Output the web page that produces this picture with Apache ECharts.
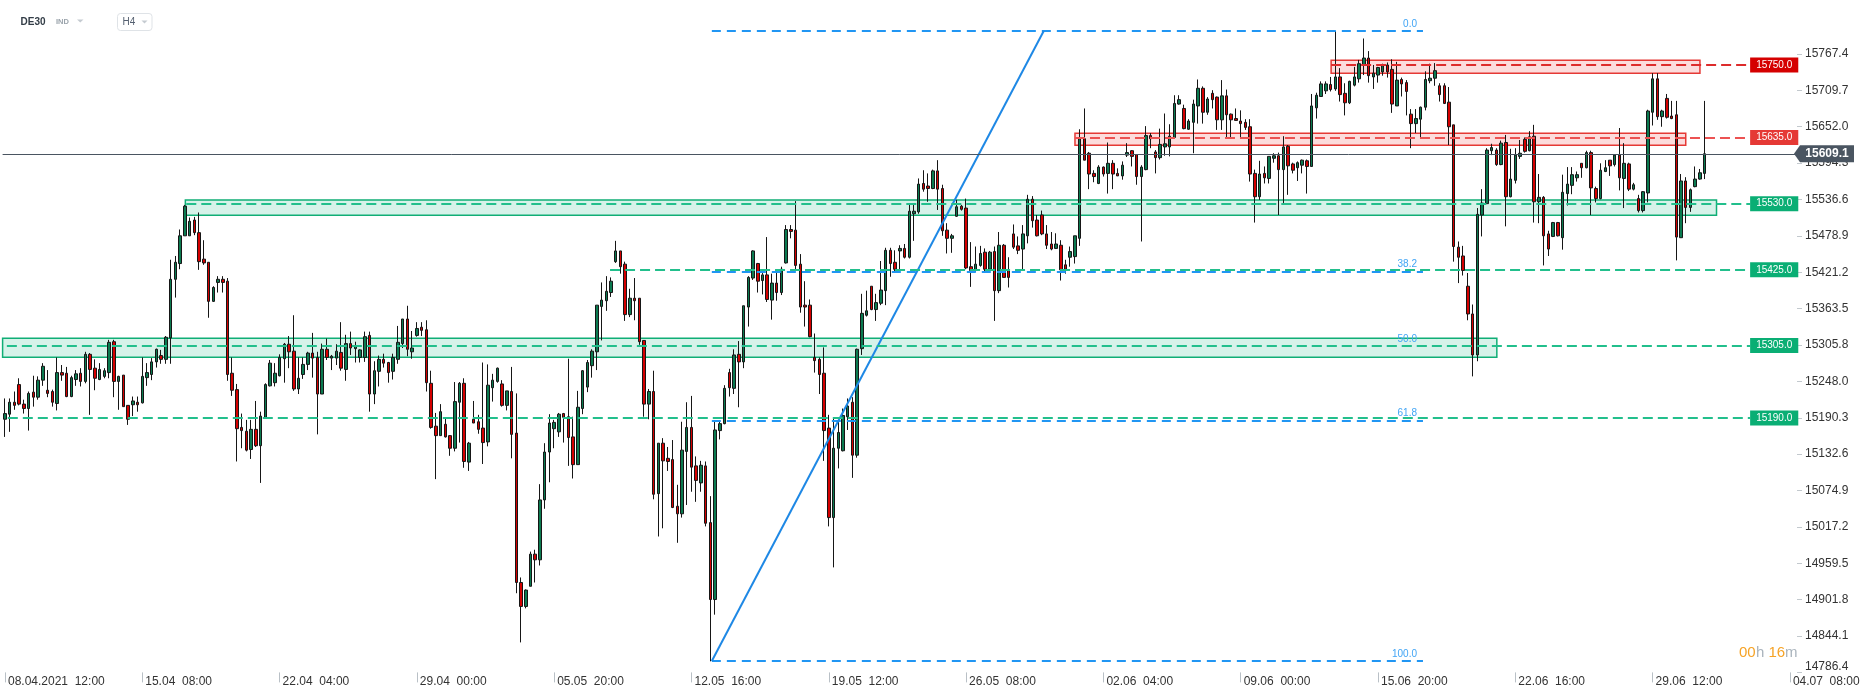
<!DOCTYPE html>
<html><head><meta charset="utf-8">
<script src="https://cdn.jsdelivr.net/npm/echarts@6/dist/echarts.min.js"></script>
<style>html,body{margin:0;padding:0;background:#fff}#c{width:1866px;height:698px}</style>
</head><body><div id="c"></div>
<script>
// H4 candles, each row: [open, close, low, high]
const candles = [
[15188,15197,15160,15221],[15196,15215,15168,15221],[15215,15210,15203,15232],[15243,15212,15210,15253],[15212,15205,15197,15219],
[15205,15229,15170,15232],[15231,15223,15208,15257],[15223,15250,15219,15256],[15250,15272,15241,15277],[15234,15229,15223,15266],
[15232,15215,15208,15235],[15213,15262,15202,15286],[15262,15258,15249,15274],[15261,15224,15223,15271],[15224,15254,15223,15257],
[15251,15260,15241,15266],[15261,15248,15240,15269],[15248,15291,15245,15295],[15291,15267,15195,15293],[15269,15253,15234,15283],
[15251,15267,15250,15277],[15256,15265,15253,15269],[15262,15310,15253,15314],[15311,15248,15223,15314],[15248,15256,15203,15257],
[15258,15208,15208,15258],[15210,15188,15179,15210],[15211,15217,15193,15224],[15215,15211,15200,15224],[15214,15256,15213,15286],
[15254,15262,15241,15277],[15259,15279,15250,15285],[15279,15299,15270,15300],[15289,15283,15276,15298],[15283,15318,15276,15320],
[15317,15410,15276,15441],[15410,15437,15381,15447],[15435,15479,15426,15489],[15479,15526,15479,15528],[15479,15502,15479,15508],
[15504,15484,15480,15509],[15484,15438,15425,15516],[15442,15436,15433,15472],[15437,15375,15349,15437],[15375,15397,15374,15399],
[15405,15410,15389,15415],[15410,15405,15389,15415],[15407,15259,15249,15412],[15261,15234,15225,15286],[15235,15173,15121,15244],
[15175,15170,15142,15197],[15169,15139,15137,15187],[15140,15172,15125,15187],[15172,15146,15144,15217],[15146,15193,15087,15200],
[15191,15243,15189,15245],[15241,15277,15240,15282],[15246,15261,15240,15277],[15257,15286,15256,15291],[15284,15307,15246,15309],
[15307,15295,15269,15320],[15296,15236,15233,15353],[15236,15253,15228,15286],[15259,15275,15252,15286],[15275,15293,15266,15295],
[15293,15285,15254,15325],[15286,15228,15164,15295],[15228,15299,15228,15308],[15299,15286,15282,15316],[15285,15288,15266,15290],
[15285,15296,15274,15307],[15294,15269,15265,15342],[15267,15308,15249,15322],[15308,15301,15290,15327],[15300,15304,15278,15311],
[15286,15298,15278,15299],[15286,15319,15279,15327],[15321,15228,15200,15327],[15228,15265,15212,15280],[15264,15283,15240,15289],
[15283,15277,15270,15292],[15278,15262,15246,15279],[15264,15286,15251,15292],[15283,15310,15276,15336],[15308,15347,15301,15347],
[15347,15299,15288,15368],[15295,15301,15284,15328],[15321,15332,15319,15342],[15334,15329,15320,15342],[15330,15246,15232,15345],
[15245,15175,15173,15265],[15177,15162,15093,15198],[15162,15200,15162,15212],[15180,15160,15159,15191],[15162,15142,15130,15163],
[15142,15216,15137,15247],[15215,15245,15151,15247],[15245,15121,15111,15253],[15120,15150,15106,15152],[15188,15182,15182,15217],
[15184,15172,15165,15195],[15174,15151,15117,15278],[15152,15242,15145,15275],[15238,15250,15216,15260],[15248,15269,15246,15270],
[15244,15210,15208,15250],[15210,15233,15202,15233],[15232,15164,15126,15271],[15166,14929,14912,15229],[14929,14891,14834,14937],
[14891,14917,14888,14918],[14923,14974,14923,14978],[14974,14965,14929,14981],[14965,15060,14956,15085],[15060,15136,15046,15150],
[15136,15182,15088,15196],[15173,15183,15142,15187],[15168,15196,15160,15198],[15197,15191,15151,15198],[15192,15159,15114,15284],
[15160,15116,15094,15192],[15116,15207,15116,15233],[15205,15265,15196,15266],[15239,15278,15231,15282],[15273,15296,15254,15299],
[15295,15369,15266,15369],[15367,15377,15313,15405],[15376,15391,15360,15415],[15389,15407,15382,15413],[15438,15455,15436,15471],
[15455,15430,15419,15455],[15434,15354,15344,15438],[15354,15380,15350,15395],[15380,15376,15345,15412],[15380,15311,15306,15380],
[15313,15212,15192,15313],[15212,15232,15188,15236],[15232,15069,15061,15265],[15070,15150,15002,15150],[15150,15122,15015,15158],
[15126,15121,15106,15144],[15124,15048,15047,15155],[15050,15038,14992,15084],[15038,15139,15032,15184],[15137,15175,15052,15215],
[15175,15112,15073,15225],[15114,15091,15057,15129],[15087,15115,15073,15122],[15114,15023,15018,15121],[15024,14902,14804,15066],
[14902,15171,14878,15184],[15170,15181,15156,15184],[15181,15237,15180,15242],[15262,15238,15224,15268],[15237,15290,15228,15299],
[15291,15279,15207,15312],[15279,15368,15269,15368],[15366,15413,15335,15415],[15412,15455,15409,15456],[15435,15407,15389,15436],
[15408,15417,15386,15421],[15417,15378,15374,15477],[15377,15404,15346,15419],[15404,15389,15376,15425],[15389,15426,15385,15430],
[15436,15489,15435,15496],[15489,15486,15475,15496],[15488,15432,15423,15534],[15434,15366,15357,15450],[15369,15366,15335,15407],
[15369,15319,15318,15378],[15286,15281,15262,15324],[15283,15259,15228,15286],[15261,15170,15122,15302],[15174,15032,15018,15195],
[15032,15142,14953,15191],[15142,15167,15110,15185],[15138,15194,15137,15205],[15192,15209,15171,15221],[15215,15131,15095,15223],
[15131,15299,15127,15300],[15300,15356,15290,15387],[15353,15360,15351,15392],[15399,15362,15361,15399],[15362,15373,15344,15387],
[15372,15393,15369,15439],[15392,15456,15369,15460],[15456,15435,15414,15460],[15437,15426,15422,15456],[15455,15459,15425,15464],
[15459,15445,15443,15466],[15445,15518,15443,15531],[15514,15518,15471,15531],[15517,15561,15514,15570],[15562,15553,15549,15583],
[15558,15554,15533,15578],[15554,15582,15553,15584],[15582,15553,15520,15599],[15554,15487,15479,15560],[15488,15475,15451,15499],
[15475,15479,15452,15482],[15510,15525,15509,15536],[15526,15521,15519,15528],[15523,15428,15426,15538],[15430,15424,15398,15469],
[15424,15434,15422,15462],[15432,15451,15430,15463],[15453,15426,15422,15459],[15426,15453,15425,15455],[15454,15392,15344,15462],
[15392,15464,15388,15485],[15464,15413,15413,15466],[15425,15413,15397,15445],[15482,15461,15458,15497],[15463,15456,15450,15478],
[15458,15482,15426,15496],[15479,15537,15467,15544],[15537,15503,15492,15542],[15504,15479,15478,15512],[15512,15482,15480,15519],
[15482,15464,15458,15496],[15466,15458,15456,15485],[15459,15466,15458,15483],[15464,15425,15408,15472],[15433,15426,15419,15441],
[15445,15454,15430,15462],[15446,15479,15435,15479],[15475,15633,15463,15648],[15633,15599,15599,15681],[15610,15577,15553,15612],
[15578,15573,15564,15583],[15562,15588,15561,15591],[15588,15577,15573,15589],[15578,15594,15546,15627],[15594,15577,15553,15599],
[15578,15574,15574,15586],[15574,15591,15568,15597],[15607,15611,15604,15626],[15614,15605,15589,15615],[15608,15573,15560,15608],
[15573,15588,15470,15591],[15584,15638,15583,15653],[15638,15633,15618,15642],[15612,15603,15578,15615],[15603,15624,15600,15649],
[15620,15625,15606,15673],[15620,15637,15605,15656],[15635,15689,15634,15702],[15688,15695,15687,15702],[15681,15649,15648,15687],
[15648,15661,15647,15664],[15659,15688,15610,15695],[15685,15713,15657,15727],[15713,15675,15657,15716],[15675,15696,15671,15699],
[15705,15695,15681,15710],[15699,15663,15647,15700],[15663,15701,15647,15726],[15701,15671,15634,15711],[15672,15663,15635,15673],
[15665,15662,15662,15681],[15661,15657,15634,15678],[15659,15651,15647,15664],[15652,15577,15565,15664],[15578,15541,15500,15584],
[15541,15577,15536,15598],[15578,15571,15562,15589],[15570,15605,15562,15605],[15602,15606,15595,15610],[15606,15584,15512,15611],
[15584,15620,15528,15637],[15621,15590,15544,15623],[15593,15583,15578,15595],[15587,15595,15566,15597],[15591,15599,15578,15600],
[15598,15589,15546,15600],[15589,15685,15589,15704],[15682,15702,15665,15706],[15700,15720,15700,15724],[15709,15720,15704,15724],
[15719,15711,15708,15731],[15712,15731,15709,15804],[15731,15703,15692,15745],[15705,15690,15670,15721],[15690,15724,15688,15725],
[15718,15731,15716,15747],[15728,15752,15722,15758],[15750,15761,15734,15792],[15761,15733,15722,15772],[15731,15737,15712,15750],
[15734,15746,15722,15747],[15739,15749,15733,15752],[15750,15739,15730,15754],[15743,15688,15674,15759],[15685,15726,15685,15755],
[15727,15720,15700,15730],[15722,15708,15670,15726],[15672,15657,15618,15680],[15657,15665,15642,15680],[15664,15683,15634,15684],
[15683,15727,15678,15740],[15725,15729,15721,15752],[15729,15741,15717,15753],[15717,15703,15692,15721],[15717,15689,15688,15721],
[15691,15652,15623,15715],[15655,15462,15438,15655],[15461,15445,15404,15470],[15447,15424,15416,15463],[15399,15355,15345,15420],
[15355,15290,15256,15370],[15290,15513,15280,15523],[15512,15531,15478,15553],[15530,15615,15530,15618],[15614,15619,15607,15625],
[15615,15592,15590,15618],[15592,15626,15591,15630],[15627,15541,15494,15639],[15541,15569,15540,15617],[15567,15607,15562,15618],
[15605,15610,15601,15631],[15632,15613,15611,15635],[15614,15636,15613,15645],[15637,15533,15500,15655],[15533,15540,15499,15577],
[15540,15479,15432,15542],[15482,15458,15447,15487],[15478,15500,15477,15501],[15500,15479,15478,15501],[15476,15548,15457,15576],
[15546,15561,15527,15588],[15559,15576,15545,15588],[15571,15576,15565,15581],[15594,15587,15571,15594],[15587,15611,15586,15614],
[15611,15555,15512,15614],[15554,15538,15532,15557],[15538,15583,15537,15594],[15581,15587,15580,15599],[15599,15590,15574,15599],
[15592,15607,15589,15607],[15607,15571,15551,15650],[15570,15594,15523,15626],[15593,15553,15550,15595],[15553,15560,15551,15563],
[15538,15519,15516,15544],[15519,15549,15516,15550],[15547,15677,15532,15679],[15675,15728,15654,15737],[15728,15668,15663,15737],
[15668,15677,15652,15679],[15697,15667,15665,15704],[15669,15665,15664,15693],[15671,15477,15440,15693],[15476,15566,15476,15577],
[15566,15524,15499,15572],[15524,15552,15517,15554],[15557,15569,15556,15589],[15569,15579,15568,15585],[15578,15609.1,15569,15693]
];
const slotCount = 379;              // candle slots on the time axis (incl. empty future slots)
const xTickStep = 29;               // a date label every 29 H4 bars
const xTickLabels = ['08.04.2021  12:00','15.04  08:00','22.04  04:00','29.04  00:00','05.05  20:00','12.05  16:00','19.05  12:00',
  '26.05  08:00','02.06  04:00','09.06  00:00','15.06  20:00','22.06  16:00','29.06  12:00','04.07  08:00'];
const yTicks = [14786.4,14844.1,14901.8,14959.5,15017.2,15074.9,15132.6,15190.3,15248.0,15305.8,15363.5,15421.2,15478.9,15536.6,15594.3,15652.0,15709.7,15767.4];
const yMax = 15853.07;
const lastPrice = 15609.1;
const levelValues = [15750.0, 15635.0, 15530.0, 15425.0, 15305.0, 15190.0];
const levelStarts = [280.1, 226.0, 38.3, 127.8, 0.4, 0.6];   // bar index where each level line starts
const levelTones  = ['red', 'lightred', 'green', 'green', 'green', 'green'];
const levelEnd = 368.6;
const zoneFrom = [280.1, 226.0, 38.1, -0.5];
const zoneTo   = [358.0, 355.0, 361.5, 315.1];
const zoneLow  = [15737, 15622.6, 15511.5, 15286.2];
const zoneHigh = [15757.4, 15641.6, 15535.7, 15316.3];
const zoneTones = ['red', 'red', 'green', 'green'];
const fibLow = 14804.4, fibHigh = 15803.9;
const fibFrom = 149.3, fibTo = 299.5, fibDiagEnd = 219.4;
const fibRatios = [0, 38.2, 50, 61.8, 100];

const FONT = 'Liberation Sans, Arial, sans-serif';
const tone = {
  red:      {line:'#dd2c2c', box:'#d50000'},
  lightred: {line:'#ec5252', box:'#e53935'},
  green:    {line:'#22bf8c', box:'#0aae74'}
};
const zoneStyle = {
  red:   {color:'rgba(240,80,80,0.20)', borderColor:'#e53935', borderWidth:1.5},
  green: {color:'rgba(0,176,116,0.16)', borderColor:'#10ae76', borderWidth:1.5}
};

const markLines = [];
// fib levels
fibRatios.forEach(r => {
  const p = fibHigh - r / 100 * (fibHigh - fibLow);
  markLines.push([
    {coord:[fibFrom, p], lineStyle:{color:'#2196f3', width:2, type:[9,6]},
     label:{show:true, position:'insideEndTop', formatter:r.toFixed(1), color:'#42a5f5', fontSize:10, fontFamily:FONT, distance:[6,2]}},
    {coord:[fibTo, p]}
  ]);
});
// fib diagonal
markLines.push([
  {coord:[fibFrom, fibLow], lineStyle:{color:'#1e88e5', width:2, type:'solid'}, label:{show:false}},
  {coord:[fibDiagEnd, fibHigh]}
]);
// level lines with price boxes
levelValues.forEach((v, i) => {
  const t = tone[levelTones[i]];
  markLines.push([
    {coord:[levelStarts[i], v], lineStyle:{color:t.line, width:2, type:[10,5]},
     label:{show:true, position:'end', distance:0, formatter:v.toFixed(1), color:'#fff', backgroundColor:t.box,
            padding:[2,6,2,6], fontSize:10, lineHeight:11, fontFamily:FONT}},
    {coord:[levelEnd, v]}
  ]);
});
// last price line
markLines.push({yAxis:lastPrice, lineStyle:{color:'#4a5561', width:1, type:'solid'}, label:{show:false}});

const markAreas = zoneFrom.map((f, i) => [
  {coord:[f, zoneHigh[i]], itemStyle:zoneStyle[zoneTones[i]]},
  {coord:[zoneTo[i], zoneLow[i]]}
]);

const chart = echarts.init(document.getElementById('c'), null, {renderer:'canvas'});
chart.setOption({
  animation:false,
  backgroundColor:'#fff',
  textStyle:{fontFamily:FONT},
  grid:{left:2.6, right:69, top:0, bottom:25.6, containLabel:false, outerBoundsMode:'none'},
  xAxis:[{
    type:'category',
    data:Array.from({length:slotCount}, (_, i) => String(i)),
    boundaryGap:true,
    axisLine:{show:false, onZero:false},
    axisTick:{show:true, alignWithLabel:true, length:10, interval:(i) => i % xTickStep === 0, lineStyle:{color:'#b9c0c6'}},
    axisLabel:{show:true, interval:(i) => i % xTickStep === 0, formatter:(v, i) => xTickLabels[Math.round(i / xTickStep)] || '',
      align:'left', margin:3, padding:[0,0,0,3], fontSize:12, color:'#333', fontFamily:FONT},
    splitLine:{show:false}
  },{
    type:'value', show:false, min:-0.5, max:slotCount - 0.5,
    axisLine:{show:false, onZero:false}, axisTick:{show:false}, axisLabel:{show:false}, splitLine:{show:false}
  }],
  yAxis:{
    type:'value', position:'right', min:yTicks[0], max:yMax, scale:true,
    axisLine:{show:false, onZero:false},
    axisTick:{show:true, length:5, customValues:yTicks, lineStyle:{color:'#c3c9ce'}},
    axisLabel:{show:true, customValues:yTicks, margin:8, fontSize:12, color:'#333', fontFamily:FONT,
      formatter:(v) => v === yTicks[0] ? '{s|' + v.toFixed(1) + '}' : v.toFixed(1),
      rich:{s:{padding:[0,0,11,0], fontSize:12, color:'#333', fontFamily:FONT}}},
    splitLine:{show:false}
  },
  series:[{
    type:'candlestick', xAxisIndex:0, yAxisIndex:0, z:2,
    data:candles, barWidth:3,
    itemStyle:{color:'#0b7a50', color0:'#d40000', borderColor:'#161616', borderColor0:'#161616', borderColorDoji:'#161616', borderWidth:1}
  },{
    type:'line', xAxisIndex:1, yAxisIndex:0, z:5, clip:false, data:[], silent:true,
    markArea:{silent:true, data:markAreas},
    markLine:{silent:true, symbol:['none','none'], animation:false, data:markLines},
    markPoint:{silent:true, animation:false, data:[{
      coord:[slotCount - 0.5, lastPrice], symbol:'path://M0,8.5L6,0L60,0L60,17L6,17Z', symbolSize:[60,17], symbolKeepAspect:false,
      symbolOffset:[27,0], itemStyle:{color:'#4a5561'},
      label:{show:true, position:'inside', formatter:lastPrice.toFixed(1), color:'#fff', fontWeight:'bold', fontSize:12, fontFamily:FONT, offset:[3,0]}
    }]}
  }],
  graphic:[
    {type:'text', x:20.5, y:22, style:{text:'DE30', fontSize:10, fontWeight:'bold', fontFamily:FONT, fill:'#333d47', verticalAlign:'middle', textVerticalAlign:'middle'}},
    {type:'text', x:56, y:22, style:{text:'IND', fontSize:7.5, fontWeight:'bold', fontFamily:FONT, fill:'#9aa3ab', verticalAlign:'middle', textVerticalAlign:'middle'}},
    {type:'polygon', shape:{points:[[77,19.5],[83.5,19.5],[80.25,22.5]]}, style:{fill:'#c5cbd1'}},
    {type:'rect', shape:{x:117.5, y:13.5, width:34.5, height:17, r:3}, style:{fill:'#fff', stroke:'#dfe3e7', lineWidth:1}},
    {type:'text', x:122.5, y:22.5, style:{text:'H4', fontSize:10, fontFamily:FONT, fill:'#556070', verticalAlign:'middle', textVerticalAlign:'middle'}},
    {type:'polygon', shape:{points:[[141.5,20.5],[147.5,20.5],[144.5,23.5]]}, style:{fill:'#c5cbd1'}},
    {type:'text', x:1739, y:653, style:{text:'00', fontSize:15, fontFamily:FONT, fill:'#f6a326', verticalAlign:'middle', textVerticalAlign:'middle'}},
    {type:'text', x:1756, y:653, style:{text:'h', fontSize:15, fontFamily:FONT, fill:'#aab4bd', verticalAlign:'middle', textVerticalAlign:'middle'}},
    {type:'text', x:1768.5, y:653, style:{text:'16', fontSize:15, fontFamily:FONT, fill:'#f6a326', verticalAlign:'middle', textVerticalAlign:'middle'}},
    {type:'text', x:1785, y:653, style:{text:'m', fontSize:15, fontFamily:FONT, fill:'#aab4bd', verticalAlign:'middle', textVerticalAlign:'middle'}}
  ]
});
</script></body></html>
